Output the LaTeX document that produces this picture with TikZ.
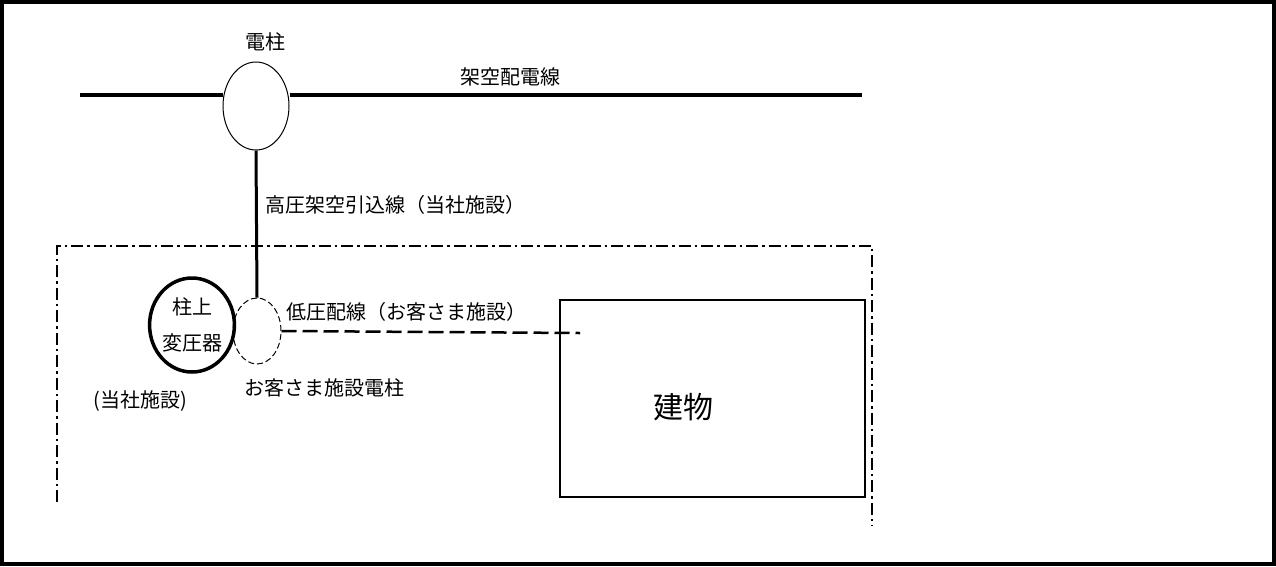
\documentclass[tikz,border=0pt]{standalone}
\usepackage{fontspec}
\setmainfont{Noto Sans CJK JP}
\usetikzlibrary{shapes.geometric}
\tikzset{
  lbl/.style={inner sep=0pt, font=\fontsize{20}{24}\selectfont},
  poleshape/.style={draw, ellipse, inner sep=0pt, line width=1pt},
  wire/.style={line width=3pt},
  frameline/.style={line width=1.8pt, dash pattern=on 12pt off 4pt on 2.5pt off 4pt},
}
\begin{document}
\begin{tikzpicture}[x=1pt,y=-1pt]
\useasboundingbox (0,0) rectangle (1276,566);
\draw[line width=4pt] (2,2) rectangle (1274,564);
% pole on the overhead line
\node[poleshape, minimum width=66pt, minimum height=88pt] (pole) at (256,106) {};
\coordinate (lineL) at (80,95);
\coordinate (lineR) at (862,95);
\draw[line width=4pt] (lineL) -- (pole.west |- lineL);
\draw[line width=4pt] (pole.east |- lineR) -- (lineR);
\node[lbl] (tpole) at (265,42) {電柱};
\node[lbl] (tline) at (510,77) {架空配電線};
% premises boundary
\coordinate (fBL) at (57,502);
\coordinate (fTL) at (57,246);
\coordinate (fTR) at (872,246);
\coordinate (fBR) at (872,526);
\draw[frameline] (fBL) -- (fTL) -- (fTR) -- (fBR);
% customer pole and transformer
\node[poleshape, dashed, dash pattern=on 6pt off 3pt, minimum width=48pt, minimum height=66pt] (cpole) at (257,331) {};
\node[draw, ellipse, line width=3.5pt, inner sep=0pt, minimum width=74pt, minimum height=94pt, align=center, font=\fontsize{20}{36}\selectfont] (tr) at (192,325) {柱上\\変圧器};
\draw[line width=3pt] (pole.south) -- (cpole.north);
\node[lbl, anchor=west] (tdrop) at (265,205) {高圧架空引込線（当社施設）};
\node[lbl] (ttr) at (140,401) {(当社施設)};
\node[lbl, anchor=west] (tcp) at (244,388) {お客さま施設電柱};
% building
\node[draw, line width=2.2pt, minimum width=305pt, minimum height=197pt, inner sep=0pt] (bldg) at (712.5,398.5) {};
\node[inner sep=0pt, font=\fontsize{30}{36}\selectfont] (tb) at (683,407) {建物};
\coordinate (lvEnd) at (580,333);
\draw[line width=2.5pt, dash pattern=on 15pt off 6pt] (cpole.east) -- (lvEnd);
\node[lbl, anchor=west] (tlv) at (286,312) {低圧配線（お客さま施設）};
\end{tikzpicture}
\end{document}
